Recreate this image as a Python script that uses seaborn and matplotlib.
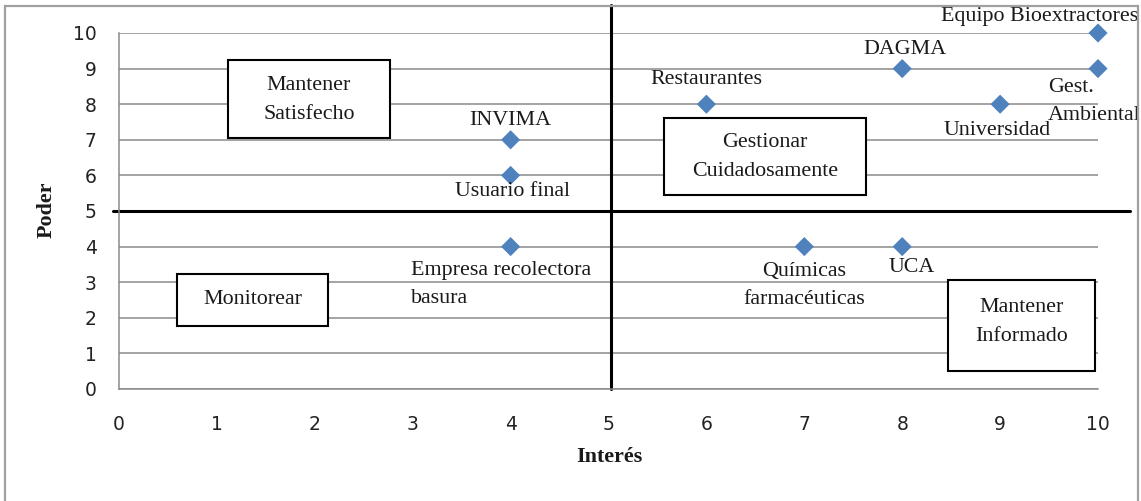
import matplotlib
matplotlib.use("Agg")
import matplotlib.pyplot as plt
from matplotlib.patches import Rectangle
import seaborn as sns
import pandas as pd

# ---- data ----
actors = ["INVIMA", "Usuario final", "Empresa recolectora\nbasura", "Restaurantes",
          "DAGMA", "Equipo Bioextractores", "Gest.\nAmbiental", "Universidad",
          "Químicas\nfarmacéuticas", "UCA"]
interes = [4, 4, 4, 6, 8, 10, 10, 9, 7, 8]
poder = [7, 6, 4, 8, 9, 10, 9, 8, 4, 4]
x_ticks = [0, 1, 2, 3, 4, 5, 6, 7, 8, 9, 10]
y_ticks = [0, 1, 2, 3, 4, 5, 6, 7, 8, 9, 10]
quadrant_names = ["Mantener\nSatisfecho", "Gestionar\nCuidadosamente", "Monitorear", "Mantener\nInformado"]

df = pd.DataFrame({"actor": actors, "Interés": interes, "Poder": poder})

# ---- layout (label offsets in pixels, alignment) ----
label_layout = {
    "INVIMA": (0, 19, "center"),
    "Usuario final": (2, -16, "center"),
    "Empresa recolectora\nbasura": (-100, -38, "left"),
    "Restaurantes": (0, 25, "center"),
    "DAGMA": (3, 19, "center"),
    "Equipo Bioextractores": (-58, 16, "center"),
    "Gest.\nAmbiental": (-50, -33, "left"),
    "Universidad": (-3, -26, "center"),
    "Químicas\nfarmacéuticas": (0, -39, "center"),
    "UCA": (10, -21, "center"),
}
# boxes: (x0, x1, y0, y1, text_x, text_y) in data units
box_layout = [
    (1.113, 2.768, 7.05, 9.24, 1.94, 8.12),
    (5.567, 7.630, 5.45, 7.61, 6.60, 6.52),
    (0.592, 2.135, 1.77, 3.23, 1.37, 2.50),
    (8.468, 9.969, 0.506, 3.06, 9.22, 1.88),
]

sns.set_style("white")
plt.rcParams["font.family"] = ["DejaVu Sans"]
serif = "Liberation Serif"
grey = "#8a8a8a"

W, H = 1141, 501
fig = plt.figure(figsize=(W / 100, H / 100), dpi=100)
ax = fig.add_axes([119 / W, (H - 389) / H, 979 / W, 356 / H])

ax.set_xlim(0, 10)
ax.set_ylim(0, 10)

ax.yaxis.grid(True, color=grey, lw=1.1, zorder=0)
ax.xaxis.grid(False)
ax.set_axisbelow(True)

for s in ["top", "right"]:
    ax.spines[s].set_visible(False)
for s in ["left", "bottom"]:
    ax.spines[s].set_color(grey)
    ax.spines[s].set_linewidth(1.1)

ax.set_xticks(x_ticks)
ax.set_yticks(y_ticks)
ax.tick_params(axis="both", direction="out", length=6, width=1.1, color=grey,
               labelsize=13.5, labelcolor="#222222")
ax.tick_params(axis="x", pad=13)
ax.tick_params(axis="y", pad=10)

# quadrant lines
ax.axvline(5.03, ymin=0, ymax=1.079, color="black", lw=2.2, clip_on=False, zorder=2)
ax.axhline(5, xmin=-0.006, xmax=1.033, color="black", lw=2.2, clip_on=False, zorder=2)

# boxes
for (x0, x1, y0, y1, tx, ty), name in zip(box_layout, quadrant_names):
    ax.add_patch(Rectangle((x0, y0), x1 - x0, y1 - y0, facecolor="white",
                           edgecolor="black", lw=1.5, zorder=3))
    ax.text(tx, ty, name, ha="center", va="center", family=serif, fontsize=15.8,
            linespacing=1.7, zorder=4, color="#1a1a1a")

sns.scatterplot(data=df, x="Interés", y="Poder", marker="D", color="#4F81BD",
                s=95, edgecolor="none", ax=ax, clip_on=False, zorder=5, legend=False)

for a, xv, yv in zip(actors, interes, poder):
    dx, dy, ha = label_layout[a]
    ax.annotate(a, (xv, yv), xytext=(dx, dy), textcoords="offset pixels",
                ha=ha, va="center", family=serif, fontsize=15.8, linespacing=1.6,
                color="#1a1a1a", zorder=6, annotation_clip=False)

ax.set_xlabel("Interés", family=serif, fontsize=15.8, fontweight="bold", color="#1a1a1a")
ax.set_ylabel("Poder", family=serif, fontsize=15.8, fontweight="bold", color="#1a1a1a")
ax.xaxis.set_label_coords(0.5005, -0.191)
ax.xaxis.label.set_va("center")
ax.yaxis.set_label_coords(-0.0735, 0.503)
ax.yaxis.label.set_va("center")

fig.patches.append(Rectangle((5 / W, -0.02), 1133 / W, (H - 6) / H + 0.02,
                             transform=fig.transFigure, fill=False,
                             edgecolor="#a0a0a0", lw=1.6))

fig.savefig("out.png", dpi=100)
